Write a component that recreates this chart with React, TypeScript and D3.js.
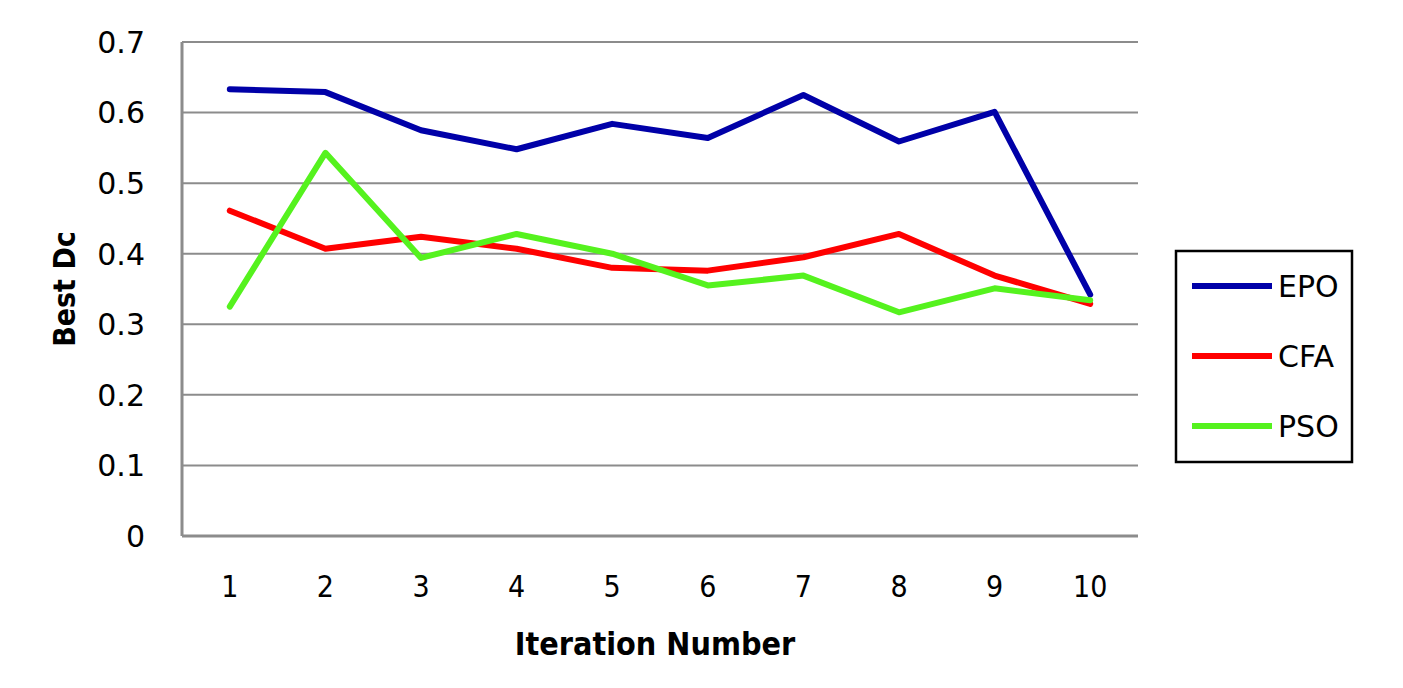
import React from "react";
import * as d3 from "d3";

const iterations = [1, 2, 3, 4, 5, 6, 7, 8, 9, 10];
const epo = [0.633, 0.629, 0.575, 0.548, 0.584, 0.564, 0.625, 0.559, 0.601, 0.342];
const cfa = [0.461, 0.407, 0.424, 0.407, 0.380, 0.376, 0.395, 0.428, 0.369, 0.329];
const pso = [0.325, 0.543, 0.394, 0.428, 0.400, 0.355, 0.369, 0.317, 0.351, 0.334];
const yTicks = [0, 0.1, 0.2, 0.3, 0.4, 0.5, 0.6, 0.7];
const seriesNames = ["EPO", "CFA", "PSO"];
const seriesColors = ["#0000a8", "#ff0000", "#55f21e"];

export default function App() {
  const W = 1403, H = 688;
  const left = 182, right = 1138, top = 42, bottom = 536;
  const x = d3.scalePoint<number>().domain(iterations).range([left, right]).padding(0.5);
  const y = d3.scaleLinear().domain([0, 0.7]).range([bottom, top]);
  const line = d3.line<number>().x((_, i) => x(iterations[i])!).y((d) => y(d));
  const series = [epo, cfa, pso];
  const grid = "#8c8c8c";
  const legendX = 1176, legendY = 251, legendW = 176, legendH = 211;

  return (
    <svg width={W} height={H} style={{ position: "absolute", left: 0, top: 0, background: "#fff" }}>
      <rect x={0} y={0} width={W} height={H} fill="#fff" />
      {yTicks.map((t) => (
        <g key={t}>
          {t > 0 && <line x1={left} x2={right} y1={y(t)} y2={y(t)} stroke={grid} strokeWidth={2} />}
          <text x={145} y={y(t)} dy="0.36em" textAnchor="end" fontFamily="DejaVu Sans" fontSize={30} fill="#000">
            {d3.format("")(t)}
          </text>
        </g>
      ))}
      <line x1={left} x2={right} y1={bottom} y2={bottom} stroke={grid} strokeWidth={3} />
      <line x1={left} x2={left} y1={top} y2={bottom} stroke={grid} strokeWidth={3} />
      {iterations.map((it) => (
        <text key={it} x={x(it)} y={597} textAnchor="middle" fontFamily="DejaVu Sans Condensed" fontSize={30} fill="#000">
          {it}
        </text>
      ))}
      <text x={655} y={655} textAnchor="middle" fontFamily="DejaVu Sans Condensed" fontWeight="bold" fontSize={32} fill="#000">
        Iteration Number
      </text>
      <text transform="translate(75,289) rotate(-90)" textAnchor="middle" fontFamily="DejaVu Sans Condensed" fontWeight="bold" fontSize={30} fill="#000">
        Best Dc
      </text>
      {series.map((s, i) => (
        <path key={i} d={line(s)!} fill="none" stroke={seriesColors[i]} strokeWidth={6} strokeLinejoin="round" strokeLinecap="round" />
      ))}
      <rect x={legendX} y={legendY} width={legendW} height={legendH} fill="#fff" stroke="#000" strokeWidth={2.5} />
      {seriesNames.map((n, i) => (
        <g key={n}>
          <line x1={1192} x2={1272} y1={286 + i * 70} y2={286 + i * 70} stroke={seriesColors[i]} strokeWidth={6} />
          <text x={1278} y={286 + i * 70} dy="0.36em" fontFamily="DejaVu Sans" fontSize={30} fill="#000">
            {n}
          </text>
        </g>
      ))}
    </svg>
  );
}
